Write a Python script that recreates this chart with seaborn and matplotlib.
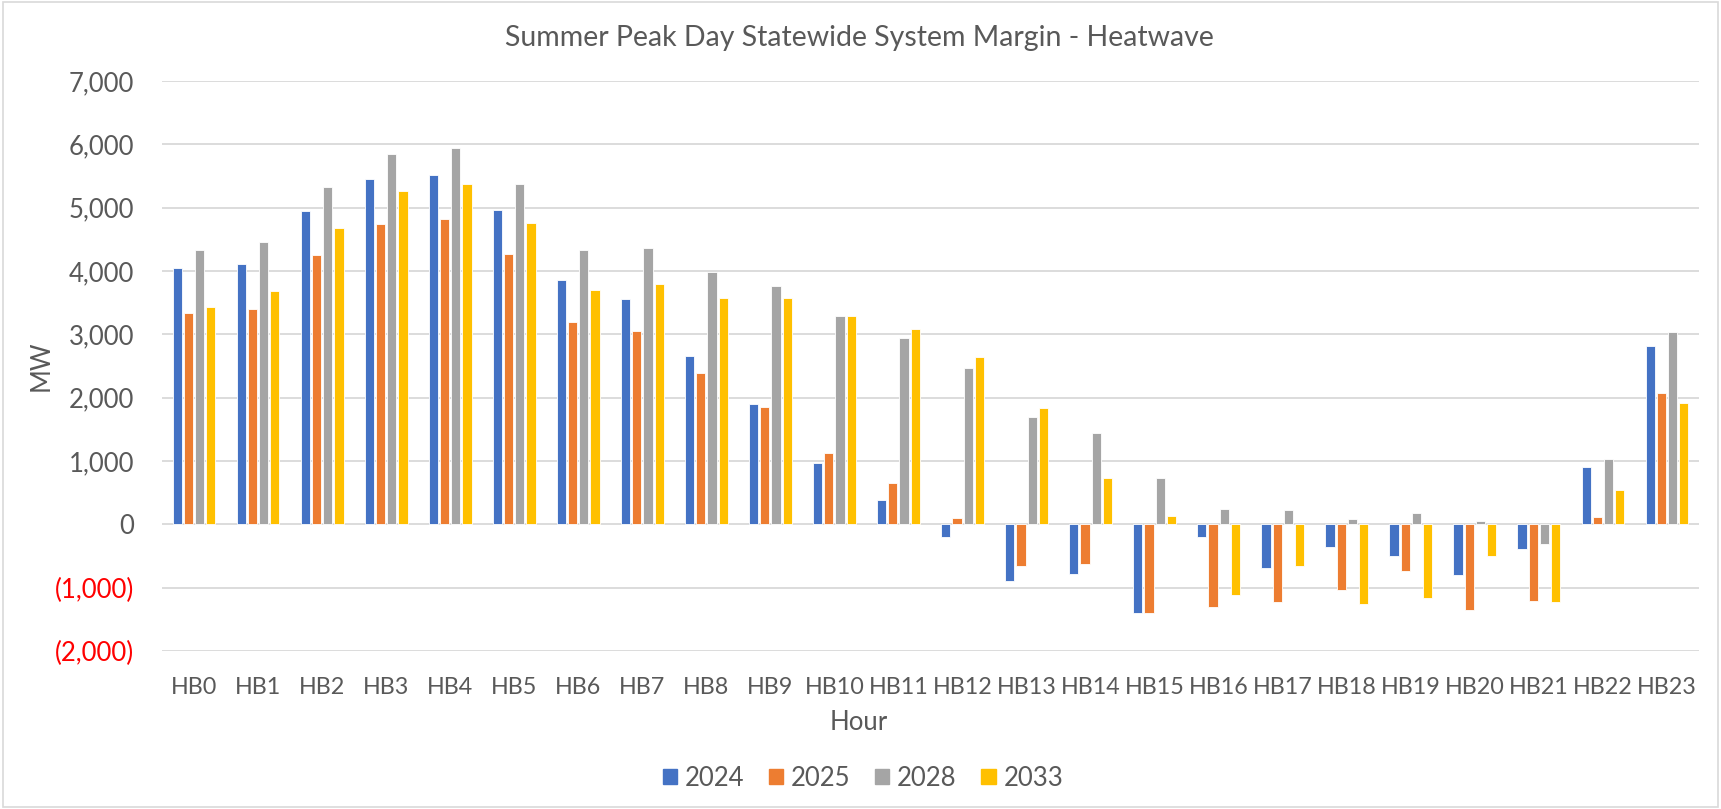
import numpy as np
import pandas as pd
import seaborn as sns
import matplotlib.pyplot as plt
from matplotlib.patches import Rectangle

hours = [f"HB{i}" for i in range(24)]
years = ["2024", "2025", "2028", "2033"]

mw_2024 = [4050, 4105, 4940, 5445, 5510, 4960, 3855, 3555, 2665, 1895, 965, 380,
           -195, -890, -780, -1405, -205, -690, -355, -495, -795, -385, 900, 2820]
mw_2025 = [3335, 3395, 4245, 4745, 4815, 4270, 3190, 3045, 2395, 1860, 1125, 645,
           95, -660, -620, -1405, -1310, -1225, -1030, -740, -1345, -1205, 115, 2075]
mw_2028 = [4335, 4460, 5330, 5845, 5935, 5370, 4335, 4370, 3980, 3765, 3285, 2945,
           2465, 1700, 1445, 735, 235, 220, 80, 185, 60, -315, 1025, 3035]
mw_2033 = [3425, 3680, 4675, 5265, 5370, 4765, 3695, 3800, 3570, 3570, 3285, 3090,
           2640, 1840, 735, 130, -1115, -655, -1260, -1170, -495, -1225, 540, 1915]

colors = ["#4472C4", "#ED7D31", "#A5A5A5", "#FFC000"]
y_ticks = list(range(-2000, 7001, 1000))

df = pd.DataFrame({
    "Hour": hours * 4,
    "Year": np.repeat(years, 24),
    "MW": mw_2024 + mw_2025 + mw_2028 + mw_2033,
})

def fmt_mw(v):
    if v < 0:
        return f"({abs(v):,})"
    return f"{v:,}"

sns.set_style("white")
plt.rcParams['font.family'] = ['Lato', 'DejaVu Sans']
text_clr = "#595959"
grid_clr = "#D9D9D9"
fs = 18.5

W, H = 1721, 809
fig = plt.figure(figsize=(W / 100, H / 100), dpi=100)
fig.subplots_adjust(left=162 / W, right=1699 / W, top=1 - 81 / H, bottom=1 - 651 / H)
ax = fig.add_subplot(111)

sns.barplot(data=df, x="Hour", y="MW", hue="Year", palette=colors, saturation=1,
            width=0.7, gap=0.18, edgecolor="white", linewidth=0.6, ax=ax, legend=False)

ax.set_ylim(-2000, 7000)
ax.set_xlim(-0.5, 23.5)
ax.set_yticks(y_ticks, [fmt_mw(v) for v in y_ticks])
for lbl, v in zip(ax.get_yticklabels(), y_ticks):
    lbl.set_color("#FF0000" if v < 0 else text_clr)
for v in y_ticks:
    ax.axhline(v, color=grid_clr, lw=1.3, zorder=0)
ax.tick_params(axis="y", length=0, pad=20, labelsize=fs)
# Lato runs wider than the original font, so x ticks a bit smaller to avoid overlap
ax.tick_params(axis="x", length=0, pad=19, labelsize=16.8, labelcolor=text_clr)
for s in ax.spines.values():
    s.set_visible(False)
ax.set_xlabel("")
ax.set_ylabel("")

fig.text(859 / W, 1 - 38 / H, "Summer Peak Day Statewide System Margin - Heatwave",
         ha="center", va="center", fontsize=20.5, color=text_clr)
fig.text(859 / W, 1 - 723 / H, "Hour", ha="center", va="center", fontsize=fs, color=text_clr)
fig.text(41 / W, 1 - 366 / H, "MW", ha="center", va="center", rotation=90,
         fontsize=fs, color=text_clr)

handles = [Rectangle((0, 0), 1, 1, color=c) for c in colors]
leg = fig.legend(handles, years, loc="center", bbox_to_anchor=(863 / W, 1 - 778 / H),
                 ncol=4, frameon=False, fontsize=fs, handlelength=0.56, handleheight=0.56,
                 handletextpad=0.3, columnspacing=0.95)
for t in leg.get_texts():
    t.set_color(text_clr)

fig.patches.append(Rectangle((0.002, 0.002), 0.996, 0.996, transform=fig.transFigure,
                             fill=False, edgecolor=grid_clr, lw=1.2))

fig.savefig("out.png", dpi=100)
